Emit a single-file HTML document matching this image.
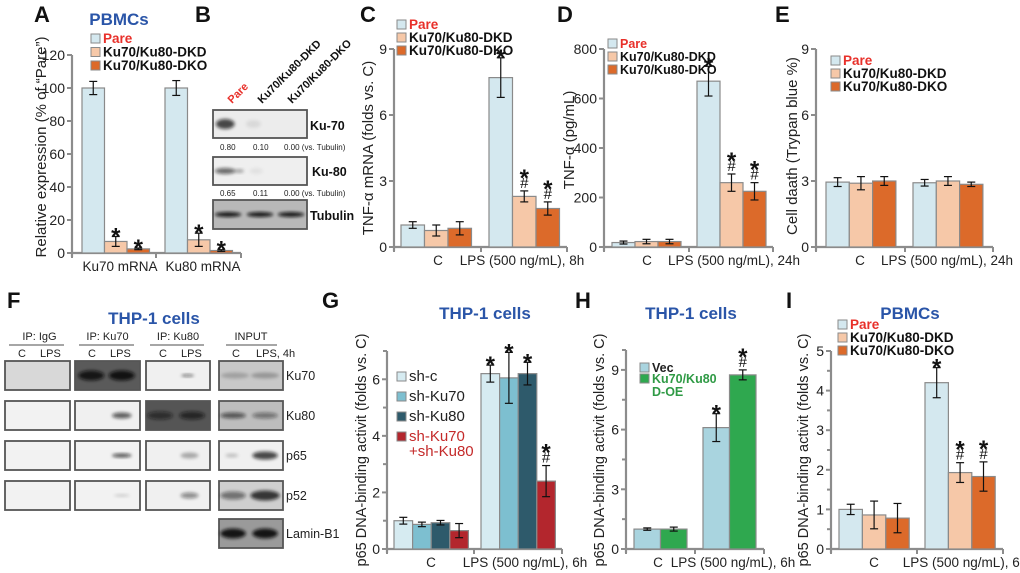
<!DOCTYPE html>
<html><head><meta charset="utf-8"><style>
html,body{margin:0;padding:0;background:#fff}
svg{display:block;font-family:"Liberation Sans",Arial,sans-serif}
</style></head><body>
<svg id="fig" width="1020" height="573" viewBox="0 0 1020 573" xmlns="http://www.w3.org/2000/svg">
<defs>
<filter id="blur1" x="-50%" y="-50%" width="200%" height="200%"><feGaussianBlur stdDeviation="1.6"/></filter>
</defs>
</svg>
<script>
// ---------- DATA ----------
const catsA = ["Ku70 mRNA","Ku80 mRNA"];
const A_pare = [100,100], A_dkd = [7,8], A_dko = [2.5,1.5];
const A_pareE = [4,4.5], A_dkdE = [3,4], A_dkoE = [0.5,0.5];
const A_marks = [["","*","*"],["","*","*"]];
const ticksA = [0,20,40,60,80,100,120];

const catsC = ["C","LPS (500 ng/mL), 8h"];
const C_pare = [1.0,7.7], C_dkd = [0.75,2.3], C_dko = [0.85,1.75];
const C_pareE = [0.15,0.9], C_dkdE = [0.25,0.25], C_dkoE = [0.3,0.3];
const C_marks = [["","",""],["*","*\n#","*\n#"]];
const ticksC = [0,3,6,9];

const catsD = ["C","LPS (500 ng/mL), 24h"];
const D_pare = [18,670], D_dkd = [22,260], D_dko = [22,225];
const D_pareE = [6,60], D_dkdE = [9,35], D_dkoE = [9,35];
const D_marks = [["","",""],["*","*\n#","*\n#"]];
const ticksD = [0,200,400,600,800];

const catsE = ["C","LPS (500 ng/mL), 24h"];
const E_pare = [2.95,2.92], E_dkd = [2.9,3.0], E_dko = [3.0,2.85];
const E_pareE = [0.2,0.15], E_dkdE = [0.3,0.2], E_dkoE = [0.2,0.1];
const E_marks = [["","",""],["","",""]];
const ticksE = [0,3,6,9];

const catsG = ["C","LPS (500 ng/mL), 6h"];
const G_shc = [1.0,6.2], G_sh70 = [0.87,6.05], G_sh80 = [0.93,6.2], G_shBoth = [0.65,2.4];
const G_shcE = [0.12,0.3], G_sh70E = [0.08,0.9], G_sh80E = [0.08,0.4], G_shBothE = [0.25,0.55];
const G_marks = [["","","",""],["*","*","*","*\n#"]];
const ticksG = [0,2,4,6];

const catsH = ["C","LPS (500 ng/mL), 6h"];
const H_vec = [1.0,6.1], H_oe = [1.0,8.75];
const H_vecE = [0.06,0.7], H_oeE = [0.1,0.25];
const H_marks = [["",""],["*","*\n#"]];
const ticksH = [0,3,6,9];

const catsI = ["C","LPS (500 ng/mL), 6h"];
const I_pare = [1.0,4.2], I_dkd = [0.86,1.93], I_dko = [0.78,1.83];
const I_pareE = [0.13,0.38], I_dkdE = [0.35,0.25], I_dkoE = [0.37,0.37];
const I_marks = [["","",""],["*","*\n#","*\n#"]];
const ticksI = [0,1,2,3,4,5];

// ---------- HELPERS ----------
const NS="http://www.w3.org/2000/svg";
const svg=document.getElementById('fig');
function mk(tag,attrs,parent,text){
  const e=document.createElementNS(NS,tag);
  for(const k in attrs) e.setAttribute(k,attrs[k]);
  if(text!==undefined) e.textContent=text;
  (parent||svg).appendChild(e);
  return e;
}
const AX="#8c8c8c";
const PARE="#d4e8ef", DKD="#f6c8a8", DKO="#dc6a2a";

function chart(o){
  const g=mk('g',{});
  
  
  const ys=v=>o.y0-v/o.ymax*(o.y0-o.yTop);
  const ya=mk('line',{x1:o.x0,y1:o.y0+4,x2:o.x0,y2:ys(o.ymax),stroke:AX,'stroke-width':2.2},g);
  
  
  o.ticks.forEach(t=>{
    mk('line',{x1:o.x0-5,x2:o.x0,y1:ys(t),y2:ys(t),stroke:AX,'stroke-width':2},g);
    const tl=mk('text',{x:o.x0-7,y:ys(t)+5,'text-anchor':'end','font-size':14,fill:'#222'},g,String(t));
    
    
  });
  if(o.minor){o.minor.forEach(t=>mk('line',{x1:o.x0-4,x2:o.x0,y1:ys(t),y2:ys(t),stroke:AX,'stroke-width':2},g));}
  const xa=mk('line',{x1:o.x0-1,y1:o.y0,x2:o.xEnd,y2:o.y0,stroke:AX,'stroke-width':2.2},g);
  
  
  [o.x0,o.xMid,o.xEnd].forEach(x=>mk('line',{x1:x,x2:x,y1:o.y0,y2:o.y0+5,stroke:AX,'stroke-width':2},g));
  o.cats.forEach((c,gi)=>{
    o.series.forEach((s,si)=>{
      const x=o.gx[gi]+si*o.bw, v=s[gi], e=o.errs[si][gi];
      const b=mk('rect',{x:x,y:ys(v),width:o.bw,height:o.y0-ys(v),fill:o.colors[si],stroke:'#8a8a8a','stroke-width':1.2},g);
      
      
      const cx=x+o.bw/2;
      mk('line',{x1:cx,x2:cx,y1:ys(v+e),y2:ys(Math.max(v-e,0)),stroke:'#111','stroke-width':1.2},g);
      mk('line',{x1:cx-4,x2:cx+4,y1:ys(v+e),y2:ys(v+e),stroke:'#111','stroke-width':1.2},g);
      mk('line',{x1:cx-4,x2:cx+4,y1:ys(Math.max(v-e,0)),y2:ys(Math.max(v-e,0)),stroke:'#111','stroke-width':1.2},g);
      const m=o.marks[gi][si];
      if(m){
        const parts=m.split('\n');
        let yb=ys(v+e)-3;
        for(let k=parts.length-1;k>=0;k--){
          const p=parts[k];
          if(p==='*'){mk('text',{x:cx,y:yb+11,'text-anchor':'middle','font-size':24,'font-weight':'bold',fill:'#111'},g,'*');yb-=12;}
          else {mk('text',{x:cx,y:yb,'text-anchor':'middle','font-size':15,fill:'#111'},g,p);yb-=13;}
        }
      }
    });
    const cl=mk('text',{x:o.catX[gi],y:o.y0+18,'text-anchor':'middle','font-size':13.5,fill:'#222'},g,c);
    
    
  });
  const yt=mk('text',{x:0,y:0,transform:`translate(${o.ytx},${o.yty}) rotate(-90)`,'text-anchor':'middle','font-size':o.ytSize||15,fill:'#222'},g,o.ytitle);
  
  
}
function legend(x,y,dy,items,size,weight){
  const g=mk('g',{});
  
  
  items.forEach((it,i)=>{
    mk('rect',{x:x,y:y+i*dy-9,width:9,height:9,fill:it[1],stroke:'#8a8a8a','stroke-width':1},g);
    const t=mk('text',{x:x+12,y:y+i*dy,'font-size':size||13.5,'font-weight':weight||'bold',fill:it[2]||'#111'},g,it[0]);
    
    
    if(it[3]) mk('text',{x:x+12,y:y+i*dy+it[3][1],'font-size':size||13.5,'font-weight':weight||'bold',fill:it[2]},g,it[3][0]);
  });
}
function label(t,x,y,size,color,name,anchor,weight){
  const e=mk('text',{x:x,y:y,'font-size':size,'font-weight':weight||'bold',fill:color||'#111','text-anchor':anchor||'start'},svg,t);
  
  
  return e;
}

label('A',34,22,22,'#111','panel-label-a');
label('B',195,22,22,'#111','panel-label-b');
label('C',360,22,22,'#111','panel-label-c');
label('D',557,22,22,'#111','panel-label-d');
label('E',775,22,22,'#111','panel-label-e');
label('F',7,308,22,'#111','panel-label-f');
label('G',322,308,22,'#111','panel-label-g');
label('H',575,308,22,'#111','panel-label-h');
label('I',786,308,22,'#111','panel-label-i');
label('PBMCs',119,25,17,'#2a55a8','title-pbmcs-a','middle');
label('THP-1 cells',154,324,17,'#2a55a8','title-thp1-f','middle');
label('THP-1 cells',485,319,17,'#2a55a8','title-thp1-g','middle');
label('THP-1 cells',691,319,17,'#2a55a8','title-thp1-h','middle');
label('PBMCs',910,319,17,'#2a55a8','title-pbmcs-i','middle');

chart({name:'chart-a',key:'a',x0:72,y0:253,yTop:55,ymax:120,ticks:ticksA,xEnd:241,xMid:156,
  gx:[82,165],bw:22.5,cats:catsA,catX:[120,203],series:[A_pare,A_dkd,A_dko],errs:[A_pareE,A_dkdE,A_dkoE],
  colors:[PARE,DKD,DKO],marks:A_marks,ytitle:'Relative expression (% of “Pare”)',ytx:46,yty:147});
legend(91,43,13.5,[['Pare',PARE,'#e8302a'],['Ku70/Ku80-DKD',DKD],['Ku70/Ku80-DKO',DKO]]);

chart({name:'chart-c',key:'c',x0:394,y0:247,yTop:49,ymax:9,ticks:ticksC,xEnd:567,xMid:481,
  gx:[401,489],bw:23.5,cats:catsC,catX:[438,522],series:[C_pare,C_dkd,C_dko],errs:[C_pareE,C_dkdE,C_dkoE],
  colors:[PARE,DKD,DKO],marks:C_marks,ytitle:'TNF-α mRNA (folds vs. C)',ytx:373,yty:148});
legend(397,29,13,[['Pare',PARE,'#e8302a'],['Ku70/Ku80-DKD',DKD],['Ku70/Ku80-DKO',DKO]]);

chart({name:'chart-d',key:'d',x0:604,y0:247,yTop:49,ymax:800,ticks:ticksD,xEnd:773,xMid:689,
  gx:[612,697],bw:23,cats:catsD,catX:[647,734],series:[D_pare,D_dkd,D_dko],errs:[D_pareE,D_dkdE,D_dkoE],
  colors:[PARE,DKD,DKO],marks:D_marks,ytitle:'TNF-α (pg/mL)',ytx:574,yty:140});
legend(608,48,13,[['Pare',PARE,'#e8302a'],['Ku70/Ku80-DKD',DKD],['Ku70/Ku80-DKO',DKO]],12.5);

chart({name:'chart-e',key:'e',x0:816,y0:247,yTop:49,ymax:9,ticks:ticksE,xEnd:993,xMid:905,
  gx:[826,913],bw:23.3,cats:catsE,catX:[860,947],series:[E_pare,E_dkd,E_dko],errs:[E_pareE,E_dkdE,E_dkoE],
  colors:[PARE,DKD,DKO],marks:E_marks,ytitle:'Cell daath (Trypan blue %)',ytx:797,yty:146});
legend(831,65,13,[['Pare',PARE,'#e8302a'],['Ku70/Ku80-DKD',DKD],['Ku70/Ku80-DKO',DKO]]);

chart({name:'chart-g',key:'g',x0:387,y0:549,yTop:351,ymax:7,ticks:ticksG,minor:[1,3,5,7],xEnd:562,xMid:474,
  gx:[394,481],bw:18.6,cats:catsG,catX:[431,525],series:[G_shc,G_sh70,G_sh80,G_shBoth],errs:[G_shcE,G_sh70E,G_sh80E,G_shBothE],
  colors:['#d6ebf1','#7dbfd0','#2e5a6b','#b3262d'],marks:G_marks,ytitle:'p65 DNA-binding activit (folds vs. C)',ytx:366,yty:450,ytSize:14.5});
legend(397,381,20,[['sh-c','#d6ebf1','#222'],['sh-Ku70','#7dbfd0','#222'],['sh-Ku80','#2e5a6b','#222'],['sh-Ku70','#b3262d','#c42a2a',['+sh-Ku80',15]]],15,'normal');

chart({name:'chart-h',key:'h',x0:626,y0:549,yTop:350,ymax:10,ticks:ticksH,minor:[1.5,4.5,7.5,10],xEnd:764,xMid:695,
  gx:[634,703],bw:26.5,cats:catsH,catX:[658,733],series:[H_vec,H_oe],errs:[H_vecE,H_oeE],
  colors:['#a9d4df','#2fa84f'],marks:H_marks,ytitle:'p65 DNA-binding activit (folds vs. C)',ytx:604,yty:450,ytSize:14.5});
legend(640,372,11,[['Vec','#a9d4df','#222'],['Ku70/Ku80','#2fa84f','#2f9a45',['D-OE',13]]],12.5);

chart({name:'chart-i',key:'i',x0:831,y0:549,yTop:351,ymax:5,ticks:ticksI,minor:[0.5,1.5,2.5,3.5,4.5],xEnd:1003,xMid:917,
  gx:[839,925],bw:23.4,cats:catsI,catX:[874,965],series:[I_pare,I_dkd,I_dko],errs:[I_pareE,I_dkdE,I_dkoE],
  colors:[PARE,DKD,DKO],marks:I_marks,ytitle:'p65 DNA-binding activit (folds vs. C)',ytx:808,yty:450,ytSize:14.5});
legend(838,329,13,[['Pare',PARE,'#e8302a'],['Ku70/Ku80-DKD',DKD],['Ku70/Ku80-DKO',DKO]]);

function blot(x,y,w,h,bg,bands,name){
  const g=mk('g',{});
  
  
  mk('rect',{x:x,y:y,width:w,height:h,fill:bg,stroke:'#555','stroke-width':1.8},g);
  bands.forEach(b=>{
    mk('ellipse',{cx:x+b[0]*w,cy:y+h/2,rx:b[1]*w,ry:b[2],fill:'#111','fill-opacity':b[3],filter:'url(#blur1)'},g);
  });
}
blot(213,110,94,28,'#ececec',[[0.13,0.1,5,0.75],[0.43,0.08,4,0.08]],'blot-ku70');
blot(213,157,94,28,'#efefef',[[0.13,0.11,3,0.6],[0.28,0.05,2,0.3],[0.46,0.07,3,0.06]],'blot-ku80');
blot(213,200,94,29,'#b8b8b8',[[0.16,0.14,2.5,0.95],[0.5,0.14,2.5,0.95],[0.83,0.14,2.5,0.95]],'blot-tubulin');
label('Ku-70',310,130,12.5,'#111','blot-label-ku70');
label('Ku-80',312,176,12.5,'#111','blot-label-ku80');
label('Tubulin',310,220,12.5,'#111','blot-label-tubulin');
function small(t,x,y){label(t,x,y,8,'#222','quant-value','start','normal');}
small('0.80',220,150);small('0.10',253,150);small('0.00 (vs. Tubulin)',284,150);
small('0.65',220,196);small('0.11',253,196);small('0.00 (vs. Tubulin)',284,196);
[['Pare',232,'#e8302a'],['Ku70/Ku80-DKD',262,'#111'],['Ku70/Ku80-DKO',292,'#111']].forEach(c=>{
  const t=mk('text',{x:0,y:0,transform:`translate(${c[1]},104) rotate(-45)`,'font-size':11,'font-weight':'bold',fill:c[2]},svg,c[0]);
  
  
});

const colsF=[[5,65],[75,65],[146,64],[219,64]];
const rowsF=[361,401,441,481,519];
const hdrF=['IP: IgG','IP: Ku70','IP: Ku80','INPUT'];
const subF=[['C','LPS'],['C','LPS'],['C','LPS'],['C','LPS, 4h']];
colsF.forEach((c,i)=>{
  label(hdrF[i],c[0]+c[1]/2+(i==0?2:0),340,11,'#222','ip-header','middle','normal');
  mk('line',{x1:c[0]+4+(i==3?3:0),x2:c[0]+c[1]-6,y1:345,y2:345,stroke:'#888','stroke-width':1.5});
  label(subF[i][0],c[0]+13,357,11,'#222','lane-c','start','normal');
  label(subF[i][1],c[0]+(i==3?37:35),357,11,'#222','lane-lps','start','normal');
});
const fb=[
 [['#d8d8d8',[]],['#5a5a5a',[[0.25,0.2,5,0.9],[0.72,0.2,5,0.95]]],['#f0f0f0',[[0.65,0.1,1.5,0.5]]],['#c8c8c8',[[0.25,0.22,3,0.2],[0.72,0.22,3,0.25]]]],
 [['#f2f2f2',[]],['#f0f0f0',[[0.72,0.15,3,0.65]]],['#555',[[0.22,0.2,4,0.6],[0.72,0.2,4,0.7]]],['#bdbdbd',[[0.22,0.2,3,0.6],[0.72,0.2,3,0.45]]]],
 [['#f2f2f2',[]],['#f2f2f2',[[0.72,0.15,2,0.7]]],['#f0f0f0',[[0.68,0.14,3,0.3]]],['#f0f0f0',[[0.2,0.1,2,0.2],[0.72,0.2,4,0.75]]]],
 [['#f2f2f2',[]],['#f2f2f2',[[0.72,0.12,1.5,0.15]]],['#f0f0f0',[[0.68,0.14,3,0.45]]],['#cfcfcf',[[0.22,0.2,4,0.5],[0.72,0.23,5,0.8]]]],
];
fb.forEach((row,r)=>row.forEach((cell,ci)=>{
  blot(colsF[ci][0],rowsF[r],colsF[ci][1],29,cell[0],cell[1],'co-ip-blot');
}));
blot(219,519,64,29,'#9a9a9a',[[0.22,0.2,5,0.95],[0.72,0.2,5,0.95]],'blot-lamin-b1');
const rowLab=['Ku70','Ku80','p65','p52','Lamin-B1'];
rowLab.forEach((t,i)=>label(t,286,rowsF[i]+19,12.5,'#222','row-label-'+t.toLowerCase(),'start','normal'));
</script>
</body></html>
